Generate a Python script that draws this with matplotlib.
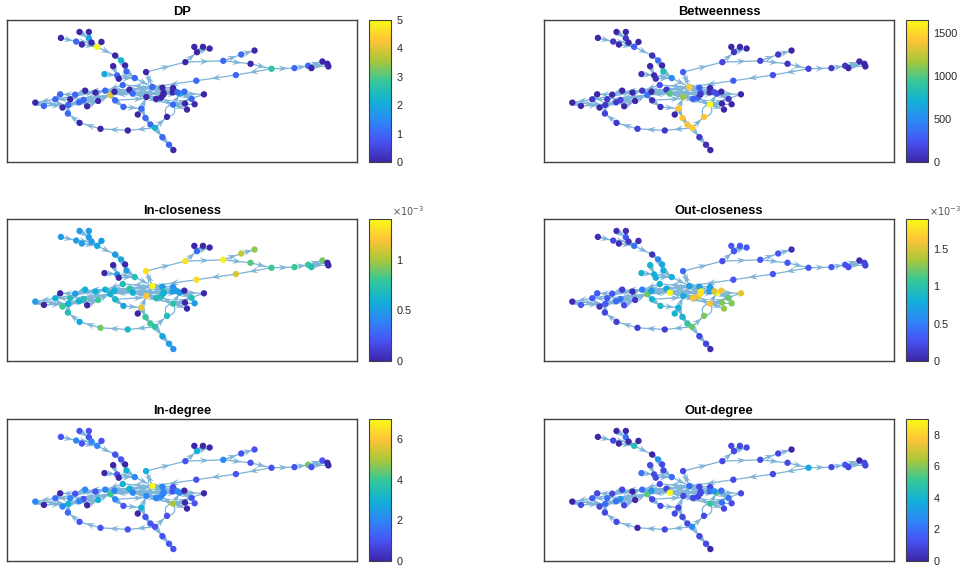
import numpy as np
import matplotlib
matplotlib.use('Agg')
import matplotlib.pyplot as plt
from matplotlib.colors import LinearSegmentedColormap

plt.rcParams['font.family'] = ['Liberation Sans', 'DejaVu Sans']

# graph layout
node_x = [182,228,238,266,266,274,245,304,291,345,
          363,375,339,379,313,351,356,404,438,556,
          591,583,609,629,670,724,764,752,815,708,
          589,884,925,935,968,983,986,368,388,398,
          457,487,519,518,540,553,612,575,584,555,
          561,519,501,491,483,468,439,424,413,436,
          451,465,487,507,520,383,301,238,203,204,
          187,131,105,165,180,210,225,255,286,315,
          330,343,345,370,294,261,250,237,490,532]
node_y = [114,125,96,96,115,128,134,126,141,167,
          182,197,199,215,223,227,237,235,217,187,
          157,141,141,146,183,164,152,192,207,226,
          243,205,198,205,185,192,200,256,270,282,
          262,264,265,278,282,276,284,298,314,312,
          330,315,352,279,294,298,292,327,345,355,
          375,385,413,436,452,393,388,370,342,316,
          324,319,309,299,284,299,285,273,279,273,
          286,276,302,322,304,320,301,308,285,278]

edges = [(0,1),(1,5),(2,4),(3,4),(4,5),(5,8),(6,8),(7,8),(8,9),(9,10),
         (10,13),(13,17),(17,40),(11,13),(12,15),(14,15),(15,17),(16,17),
         (18,40),(18,19),(19,24),(24,25),(25,26),(24,27),(27,28),(28,31),
         (31,32),(32,34),(32,33),(32,35),(32,36),(19,20),(20,21),(20,22),
         (20,23),(28,29),(29,30),(30,40),(40,41),(40,42),(40,43),(40,53),
         (40,56),(40,39),(40,38),(40,37),(37,79),(38,80),(39,80),(39,79),
         (79,77),(77,76),(76,74),(74,73),(73,72),(72,71),(71,69),(80,75),
         (80,86),(86,69),(87,69),(75,73),(79,81),(81,80),(80,82),(82,83),
         (83,57),(57,56),(57,58),(57,59),(59,60),(60,61),(61,62),(62,63),
         (63,64),(61,65),(65,66),(66,67),(67,68),(68,69),(69,70),(70,73),
         (61,52),(51,48),(51,49),(51,50),(51,47),(51,44),(44,45),(44,46),
         (45,47),(42,44),(43,44),(41,44),(55,39),(54,39),(55,56),(56,39),
         (53,39),(44,39),(84,80),(85,84),(84,86),(88,44),(89,44),(40,18),
         (39,81),(38,79),(44,81),(89,39),(88,39),
         (80,40),(39,51),(81,44),(79,41),(82,54),(69,80),(73,78),(72,69),
         (70,86),(76,79),(51,54),(44,47),(46,51),(84,69),(78,79),(56,51)]
curved_edges = [(52,51,0.7),(51,52,0.7)]

dp = [0,1,0,0,2,0,0,0,5,0,
      2.2,0,0,1,2,1,0,1,0,0,
      0,0,0,0,1,1,0,0,2.7,1,
      1,1,1,0,0,0,0,1,0,1,
      1,0,0,0,2,1,0,1,0,0,
      0,1,0,0,0,0,0,1,0,1,
      1,2.2,1,1,0,0,0,0,1,1,
      0,1,0,1,1,0,1,0,0,1,
      4,0,1,1,0,0,1,1,0,1]
betweenness = [0,100,0,0,100,0,0,0,300,50,
               350,0,0,800,50,0,50,500,300,150,
               100,0,0,0,150,100,0,80,150,200,
               300,100,80,0,0,0,0,200,100,1000,
               1450,300,0,50,200,0,0,100,0,0,
               0,1650,1400,300,300,300,1150,1400,0,1400,
               1400,1450,100,50,0,100,150,100,150,100,
               0,0,0,100,0,100,0,0,0,100,
               400,0,50,50,0,0,150,100,100,200]
in_closeness = [.5,.5,.5,.5,.5,.5,.5,.5,.55,.5,
                .55,0,0,.5,0,.5,0,.7,1.3,1.3,
                .3,0,0,0,1.35,1.05,.95,.85,.8,1.1,
                1.3,.8,.8,.7,.9,0,0,.7,.75,.6,
                1.4,.5,.45,.5,.5,0,0,.7,.5,0,
                0,.75,.7,.7,.7,.7,1.2,1.15,0,.8,
                .8,.75,.55,.5,.45,.65,.9,.55,.7,.6,
                .8,0,.5,.6,0,.7,.5,.6,.6,.6,
                .6,.6,.65,.55,.8,0,.7,.6,.6,.5]
out_closeness = [.05,.2,.05,.05,.3,.1,.05,.05,.45,.1,
                 .55,.75,.85,.8,.85,.8,.8,.8,.4,.25,
                 .3,.3,.3,.3,.3,.3,.05,.3,.3,.3,
                 .3,.3,.3,.25,.05,.2,.2,.8,.75,1.9,
                 .7,.7,.7,.7,1.9,1.6,1.55,1.2,1.25,1.25,
                 1.3,1.6,1.25,1.9,1.55,1.6,.8,.8,.85,.85,
                 1.05,1.2,.2,.2,.05,.15,.15,.15,.2,.3,
                 .1,.3,.05,.3,.3,.3,.3,.15,.05,.5,
                 1.2,.7,.85,.9,.1,.25,.45,.4,1.75,1.5]
in_degree = [1,2,1,1,1,2,1,1,2,1,
             1,0,0,3,0,1,0,2,3,1,
             3,0,0,0,2,1,1,1,1,1,
             1,1,4.5,1,1,0,0,3,3,2,
             7,2,1,1,2,0,0,1,1,0,
             0,5,1,2,2,2,2,3,0,1,
             1,1,1,1,1,1,1,1,1.5,3,
             2,0,2,1.5,0,2,1,2,1,2,
             4,2,2,1,3,0,1,2,2,2]
out_degree = [0,1,0,0,2,0,0,0,4.5,0,
              3,1,1,1,2,1,1,2,1,1,
              1,1,1,1,1,1,0,1,3.5,1,
              1,1,1.5,1,0,1,1,1,1,9,
              2,1,1,2,5.5,2,1,2,1,2,
              1,5,1,1,1,1,1,1,1,1,
              1,2.7,1,1,0,1,0,1,1,2,
              1,1,0,1.5,1,2,1,1,0,2,
              5.5,3,1,1,0,1,3,2,1,3]

titles = ['DP','Betweenness','In-closeness','Out-closeness','In-degree','Out-degree']
values = [dp,betweenness,in_closeness,out_closeness,in_degree,out_degree]
vmax = [5,1650,1.4,1.9,7,9]
ticks = [[0,1,2,3,4,5],[0,500,1000,1500],[0,0.5,1],[0,0.5,1,1.5],[0,2,4,6],[0,2,4,6,8]]
tick_labels = [['0','1','2','3','4','5'],['0','500','1000','1500'],['0','0.5','1'],
               ['0','0.5','1','1.5'],['0','2','4','6'],['0','2','4','6','8']]
exponent = [False,False,True,True,False,False]

parula = LinearSegmentedColormap.from_list('parula',[
    (0.2422,0.1504,0.6603),(0.2810,0.3228,0.9579),
    (0.1786,0.5289,0.9682),(0.0689,0.6948,0.8394),(0.2161,0.7843,0.5923),
    (0.6720,0.7793,0.2227),(0.9970,0.7659,0.2199),(0.9769,0.9839,0.0805)])

W, H = 963, 570
lefts = [7,544]
tops = [20,219,419]
edge_col = '#7db4d8'
box_col = '#404040'

def box(x0, y0, w, h):
    return [x0/W, 1-(y0+h)/H, w/W, h/H]

fig = plt.figure(figsize=(W/100,H/100), dpi=100)
xs = np.array(node_x, dtype=float)
ys = np.array(node_y, dtype=float)

for i in range(6):
    x0 = lefts[i%2]
    y0 = tops[i//2]
    ax = fig.add_axes(box(x0,y0,350,142))
    ax.set_xlim(20,1072)
    ax.set_ylim(488,60)
    ax.set_xticks([])
    ax.set_yticks([])
    for s in ax.spines.values():
        s.set_color(box_col)
        s.set_linewidth(1.0)

    for a,b in edges:
        ax.plot([xs[a],xs[b]],[ys[a],ys[b]],color=edge_col,lw=0.9,zorder=1)
    for a,b,rad in curved_edges:
        ax.annotate('',xy=(xs[b],ys[b]),xytext=(xs[a],ys[a]),zorder=1,
                    arrowprops=dict(arrowstyle='-',color=edge_col,lw=0.9,
                                    connectionstyle='arc3,rad=%g'%rad))

    # arrow heads sit half way along each edge
    a_idx = np.array([e[0] for e in edges])
    b_idx = np.array([e[1] for e in edges])
    dx = xs[b_idx]-xs[a_idx]
    dy = ys[b_idx]-ys[a_idx]
    d = np.hypot(dx,dy)
    ax.quiver((xs[a_idx]+xs[b_idx])/2,(ys[a_idx]+ys[b_idx])/2,dx/d*9,dy/d*9,
              angles='xy',scale_units='dots',scale=1,units='dots',pivot='mid',
              width=1.0,headwidth=6.5,headlength=9,headaxislength=6,
              color=edge_col,zorder=2)

    sc = ax.scatter(node_x,node_y,c=values[i],cmap=parula,vmin=0,vmax=vmax[i],
                    s=21,linewidths=0,zorder=3)
    ax.set_title(titles[i],fontsize=9.3,fontweight='bold',pad=3.5,color='black')

    cax = fig.add_axes(box(x0+362,y0,22,142))
    cb = fig.colorbar(sc,cax=cax)
    cb.set_ticks(ticks[i])
    cb.set_ticklabels(tick_labels[i])
    cb.ax.tick_params(length=0,labelsize=7.8,colors='#262626',pad=4)
    cb.outline.set_edgecolor(box_col)
    cb.outline.set_linewidth(0.8)
    if exponent[i]:
        cax.text(1.05,1.01,r'$\times 10^{-3}$',transform=cax.transAxes,fontsize=7,
                 color='#555555',ha='left',va='bottom',math_fontfamily='dejavusans')

fig.savefig('out.png',dpi=100)
